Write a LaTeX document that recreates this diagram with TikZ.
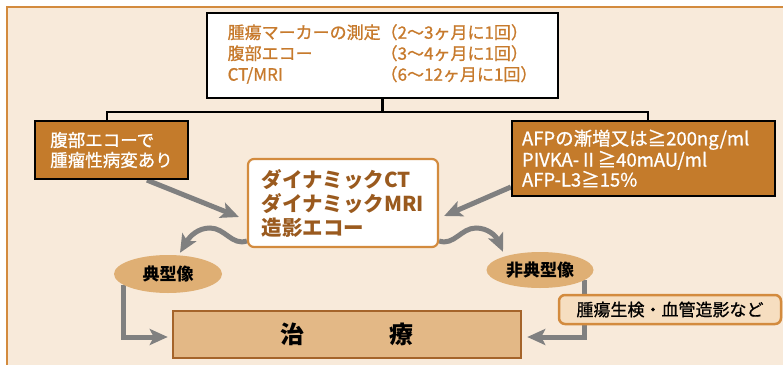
\documentclass[tikz,border=0pt]{standalone}
\usepackage{fontspec}
\newfontfamily\jp{Noto Sans CJK JP}
\newfontfamily\jpm[FakeBold=0.9]{Noto Sans CJK JP}
\usetikzlibrary{arrows.meta,backgrounds,shapes.geometric}
\definecolor{cream}{HTML}{F8EADA}
\definecolor{frameor}{HTML}{D38B3E}
\definecolor{boxbrown}{HTML}{C47B2B}
\definecolor{toptext}{HTML}{C77A2C}
\definecolor{ctrtext}{HTML}{9A5A1E}
\definecolor{ellfill}{HTML}{DFAF74}
\definecolor{trtfill}{HTML}{E3B886}
\definecolor{trtedge}{HTML}{A5642A}
\definecolor{biofill}{HTML}{F6DEC0}
\definecolor{grayc}{HTML}{808080}
\tikzset{
  topbox/.style={draw=black, line width=2.2pt, fill=white, minimum width=351pt, minimum height=85pt, inner sep=0pt, text=toptext, font=\jpm\fontsize{17}{21}\selectfont},
  darkbox/.style={draw=black, line width=2.2pt, fill=boxbrown, text=white, inner sep=0pt, align=left, font=\jpm\fontsize{17.5}{20}\selectfont},
  ctrbox/.style={draw=frameor, line width=2.2pt, rounded corners=6pt, fill=white, text=ctrtext, align=left, inner sep=0pt, minimum width=190pt, minimum height=88pt, font=\jp\bfseries\fontsize{20.5}{24}\selectfont},
  ell/.style={ellipse, fill=ellfill, inner sep=0pt, font=\jp\bfseries\fontsize{17}{17}\selectfont},
  trt/.style={draw=trtedge, line width=2.5pt, fill=trtfill, minimum width=348pt, minimum height=47pt, inner sep=0pt, font=\jp\bfseries\fontsize{24}{24}\selectfont},
  bio/.style={draw=frameor, line width=2.5pt, rounded corners=6pt, fill=biofill, minimum width=222pt, minimum height=29pt, inner sep=0pt, font=\jpm\fontsize{17}{17}\selectfont},
  garrow/.style={draw=grayc, line width=5pt, -{Stealth[length=18pt,width=16pt,inset=4pt]}},
  conn/.style={draw=black, line width=2.2pt}
}
\begin{document}
\begin{tikzpicture}[x=1pt,y=-1pt]
\useasboundingbox (0,0) rectangle (783,364);
\begin{scope}[on background layer]
  \fill[white] (0,0) rectangle (783,364);
  \draw[frameor, line width=2.5pt, fill=cream] (7,7) rectangle (800,380);
\end{scope}

\node[topbox] (top) at (382.5,55.5) {\raisebox{-2pt}{\begin{tabular}{@{}l@{}l@{}}
腫瘍マーカーの測定&（2〜3ヶ月に1回）\\
腹部エコー&（3〜4ヶ月に1回）\\
CT/MRI&（6〜12ヶ月に1回）
\end{tabular}}};

\node[darkbox, minimum width=153pt, minimum height=58pt] (left) at (111.5,150) {腹部エコーで\\腫瘤性病変あり};
\node[darkbox, minimum width=263pt, minimum height=75pt, text width=243pt, font=\jpm\fontsize{18.5}{20}\selectfont] (right) at (643.5,158.5) {AFPの漸増又は≧200ng/ml\\PIVKA-Ⅱ≧40mAU/ml\\AFP-L3≧15\%};

\node[ctrbox] (ctr) at (343,203) {ダイナミックCT\\ダイナミックMRI\\造影エコー};

\node[ell, minimum width=108pt, minimum height=38pt] (typ) at (168,274) {典型像};
\node[ell, minimum width=107pt, minimum height=36pt] (atyp) at (540,270) {非典型像};

\node[trt] (treat) at (347,334.5) {治\hspace{85pt}療};
\node[bio] (bio) at (670,309.5) {腫瘍生検・血管造影など};

\coordinate (lt) at (107,112);
\coordinate (rt) at (648,112);
\coordinate (typdown) at (123,285);
\coordinate (atypdown) at (584,280);

\begin{scope}[on background layer]
  \draw[conn] (top.south) -- (top.south |- lt);
  \draw[conn] (lt |- left.north) -- (lt) -- (rt) -- (rt |- right.north);
  \draw[garrow] ([xshift=35.5pt]left.south) -- ([xshift=-8pt,yshift=-14pt]ctr.west);
  \draw[garrow] ([yshift=-28.5pt]right.west) -- ([xshift=5pt,yshift=-13pt]ctr.east);
  \draw[garrow] ([yshift=-38pt]ctr.west) .. controls (232,246) and (225,228) .. (210,228)
     .. controls (198,228) and (190,236) .. ([xshift=12pt,yshift=2pt]typ.north);
  \draw[garrow] ([yshift=-38pt]ctr.east) .. controls (454,246) and (461,228) .. (476,228)
     .. controls (488,228) and (496,236) .. ([xshift=-37pt]atyp.north);
  \draw[garrow, shorten >=4pt] (typdown) |- ([yshift=-2.5pt]treat.west);
  \draw[garrow, shorten >=5pt] (atypdown) |- ([yshift=-2.5pt]treat.east);
\end{scope}
\end{tikzpicture}
\end{document}
